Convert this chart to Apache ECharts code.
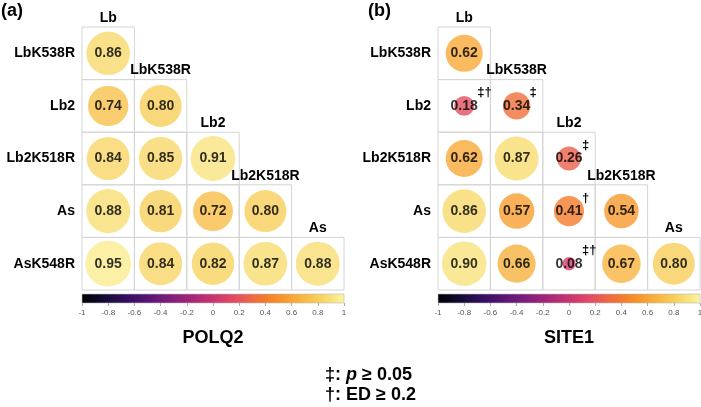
<!DOCTYPE html>
<html>
<head>
<meta charset="utf-8">
<script src="https://cdn.jsdelivr.net/npm/echarts@6/dist/echarts.min.js"></script>
<style>
html,body{margin:0;padding:0;background:#fff;}
#chart{width:701px;height:407px;}
</style>
</head>
<body>
<div id="chart"></div>
<script>
// ---- data ----
const colNames = ['Lb', 'LbK538R', 'Lb2', 'Lb2K518R', 'As'];
const rowNames = ['LbK538R', 'Lb2', 'Lb2K518R', 'As', 'AsK548R'];
const polq2Values = [
  [0.86],
  [0.74, 0.80],
  [0.84, 0.85, 0.91],
  [0.88, 0.81, 0.72, 0.80],
  [0.95, 0.84, 0.82, 0.87, 0.88]
];
const polq2Marks = [
  [''],
  ['', ''],
  ['', '', ''],
  ['', '', '', ''],
  ['', '', '', '', '']
];
const site1Values = [
  [0.62],
  [0.18, 0.34],
  [0.62, 0.87, 0.26],
  [0.86, 0.57, 0.41, 0.54],
  [0.90, 0.66, 0.08, 0.67, 0.80]
];
const site1Marks = [
  [''],
  ['‡†', '‡'],
  ['', '', '‡'],
  ['', '', '†', ''],
  ['', '', '‡†', '', '']
];
const panelTitles = ['POLQ2', 'SITE1'];
const panelTags = ['(a)', '(b)'];
const colorbarMin = -1;
const colorbarMax = 1;
const colorbarStep = 0.2;
const paletteColors = [
  '#000004', '#0A0620', '#1A0B3A', '#2D0D55', '#420F6A', '#581474',
  '#6E1A78', '#85207A', '#9C2479', '#B22C76', '#C8346F', '#D9416A',
  '#E6525E', '#EF6842', '#F47A2C', '#F78F28', '#F8A535', '#F8BA45',
  '#F8CE5A', '#F8E27A', '#FBF6A2'
];

// ---- layout ----
const FONT = '"Liberation Sans", Arial, sans-serif';
const panelLeft = [82, 438];
const panelWidth = 262;
const panelTop = 27;
const panelHeight = 263;
const cbTop = 294;
const cbHeight = 9;
const circleScale = 47;

const grids = [], xAxes = [], yAxes = [], series = [];
const scatterIdx = [];

function buildPanel(p, values, marks) {
  const g = grids.length;
  grids.push({left: panelLeft[p], top: panelTop, width: panelWidth, height: panelHeight, outerBoundsMode: 'none'});
  xAxes.push({
    type: 'category', gridIndex: g, data: colNames,
    axisLine: {show: false}, axisTick: {show: false}, axisLabel: {show: false}, splitLine: {show: false}
  });
  yAxes.push({
    type: 'category', gridIndex: g, data: rowNames, inverse: true,
    axisLine: {show: false}, axisTick: {show: false}, splitLine: {show: false},
    axisLabel: {fontSize: 14, fontWeight: 'bold', color: '#000', margin: 7, fontFamily: FONT}
  });
  const cells = [], pts = [], markPts = [], markTexts = [];
  values.forEach((row, i) => row.forEach((v, j) => {
    cells.push([j, i]);
    pts.push([j, i, v]);
    if (marks[i][j]) { markPts.push([j, i]); markTexts.push(marks[i][j]); }
  }));
  // cell borders
  series.push({
    type: 'custom', xAxisIndex: g, yAxisIndex: g, data: cells, z: 1, silent: true,
    renderItem: (params, api) => {
      const c = api.coord([api.value(0), api.value(1)]);
      const s = api.size([1, 1]);
      return {type: 'rect', shape: {x: c[0] - s[0] / 2, y: c[1] - s[1] / 2, width: s[0], height: s[1]},
        style: {fill: 'none', stroke: '#D4D4D4', lineWidth: 1}};
    }
  });
  // circles
  scatterIdx.push(series.length);
  series.push({
    type: 'scatter', xAxisIndex: g, yAxisIndex: g, data: pts, z: 3,
    symbol: 'circle',
    symbolSize: (v) => circleScale * Math.sqrt(Math.abs(v[2])),
    label: {
      show: true, position: 'inside', color: '#000', fontSize: 14, fontWeight: 'bold', fontFamily: FONT,
      formatter: (d) => d.value[2].toFixed(2)
    },
    emphasis: {disabled: true}
  });
  // column headers (above diagonal cells)
  series.push({
    type: 'custom', xAxisIndex: g, yAxisIndex: g, data: colNames.map((n, j) => [j, j]), z: 4, silent: true,
    renderItem: (params, api) => {
      const c = api.coord([api.value(0), api.value(1)]);
      const s = api.size([1, 1]);
      return {type: 'text', style: {
        text: colNames[params.dataIndex], x: c[0], y: c[1] - s[1] / 2 - 9,
        align: 'center', verticalAlign: 'middle', textAlign: 'center', textVerticalAlign: 'middle',
        fontSize: 14, fontWeight: 'bold', fontFamily: FONT, fill: '#000'
      }};
    }
  });
  // significance marks
  if (markPts.length) {
    series.push({
      type: 'custom', xAxisIndex: g, yAxisIndex: g, data: markPts, z: 5, silent: true,
      renderItem: (params, api) => {
        const c = api.coord([api.value(0), api.value(1)]);
        return {type: 'text', style: {
          text: markTexts[params.dataIndex], x: c[0] + 13, y: c[1] - 13,
          align: 'left', verticalAlign: 'middle', textAlign: 'left', textVerticalAlign: 'middle',
          fontSize: 13, fontWeight: 'bold', fontFamily: FONT, fill: '#000'
        }};
      }
    });
  }
  // colorbar
  const cg = grids.length;
  grids.push({left: panelLeft[p], top: cbTop, width: panelWidth, height: cbHeight, outerBoundsMode: 'none'});
  xAxes.push({
    type: 'value', gridIndex: cg, min: colorbarMin, max: colorbarMax, interval: colorbarStep,
    axisLine: {show: false}, splitLine: {show: false},
    axisTick: {show: true, length: 3, lineStyle: {color: '#999', width: 0.8}},
    axisLabel: {fontSize: 8, color: '#555', margin: 6, fontFamily: FONT}
  });
  yAxes.push({type: 'value', gridIndex: cg, min: 0, max: 1, show: false});
  series.push({
    type: 'custom', xAxisIndex: cg, yAxisIndex: cg, data: [[colorbarMin, colorbarMax]], silent: true,
    renderItem: (params, api) => {
      const a = api.coord([api.value(0), 1]);
      const b = api.coord([api.value(1), 0]);
      return {type: 'rect', shape: {x: a[0], y: a[1], width: b[0] - a[0], height: b[1] - a[1]},
        style: {
          fill: new echarts.graphic.LinearGradient(0, 0, 1, 0,
            paletteColors.map((c, k) => ({offset: k / (paletteColors.length - 1), color: c}))),
          stroke: '#BBBBBB', lineWidth: 0.6
        }};
    }
  });
}

buildPanel(0, polq2Values, polq2Marks);
buildPanel(1, site1Values, site1Marks);

const titleStyle = (t, x, y, align, size) => ({
  type: 'text', x: x, y: y,
  style: {text: t, align: align, verticalAlign: 'middle', textAlign: align, textVerticalAlign: 'middle',
    fontSize: size, fontWeight: 'bold', fontFamily: FONT, fill: '#000'}
});

const option = {
  animation: false,
  backgroundColor: '#fff',
  grid: grids,
  xAxis: xAxes,
  yAxis: yAxes,
  visualMap: {
    type: 'continuous', show: false, min: colorbarMin, max: colorbarMax, dimension: 2,
    seriesIndex: scatterIdx, inRange: {color: paletteColors}
  },
  graphic: [
    titleStyle(panelTags[0], 1, 11, 'left', 18),
    titleStyle(panelTags[1], 368, 11, 'left', 18),
    titleStyle(panelTitles[0], panelLeft[0] + panelWidth / 2, 338, 'center', 18),
    titleStyle(panelTitles[1], panelLeft[1] + panelWidth / 2, 338, 'center', 18),
    {
      type: 'text', x: 325, y: 375,
      style: {
        text: '{s|‡: }{i|p}{s| ≥ 0.05}', verticalAlign: 'middle', textVerticalAlign: 'middle',
        rich: {
          s: {fontSize: 18, fontWeight: 'bold', fontFamily: FONT, fill: '#000', color: '#000'},
          i: {fontSize: 18, fontWeight: 'bold', fontStyle: 'italic', fontFamily: FONT, fill: '#000', color: '#000'}
        }
      }
    },
    {
      type: 'text', x: 325, y: 395,
      style: {
        text: '†: ED ≥ 0.2', verticalAlign: 'middle', textVerticalAlign: 'middle',
        fontSize: 18, fontWeight: 'bold', fontFamily: FONT, fill: '#000'
      }
    }
  ],
  series: series
};

const chart = echarts.init(document.getElementById('chart'), null, {renderer: 'canvas'});
chart.setOption(option);
</script>
</body>
</html>
